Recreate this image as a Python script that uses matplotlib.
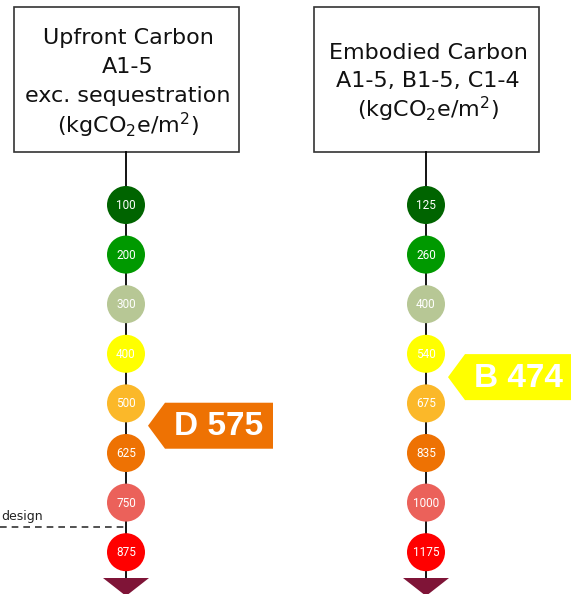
import matplotlib
matplotlib.use('Agg')
import matplotlib.pyplot as plt
from matplotlib.patches import Circle, Polygon, Rectangle

plt.rcParams['font.family'] = ['DejaVu Sans']
plt.rcParams['mathtext.fontset'] = 'custom'
plt.rcParams['mathtext.rm'] = 'DejaVu Sans'
plt.rcParams['mathtext.it'] = 'DejaVu Sans'

# data
upfront_title = ['Upfront Carbon', 'A1-5', 'exc. sequestration',
                 r'(kgCO$_\mathregular{2}$e/m$^\mathregular{2}$)']
embodied_title = ['Embodied Carbon', 'A1-5, B1-5, C1-4',
                  r'(kgCO$_\mathregular{2}$e/m$^\mathregular{2}$)']
upfront_bands = [100, 200, 300, 400, 500, 625, 750, 875]
embodied_bands = [125, 260, 400, 540, 675, 835, 1000, 1175]
band_colors = ['#006400', '#009900', '#b7c795', '#ffff00',
               '#fbb829', '#ee7203', '#eb615a', '#ff0000']
ratings = [('D', 575), ('B', 474)]
rating_colors = ['#ee7203', '#ffff00']
design_label = 'design'

W, H = 571, 594
fig = plt.figure(figsize=(W / 100, H / 100), dpi=100)
ax = fig.add_axes([0, 0, 1, 1])
ax.set_xlim(0, W)
ax.set_ylim(H, 0)
ax.axis('off')

# layout (pixels)
col_x = [126, 426]
box_w, box_top, box_bot = 225, 7, 152
title_y0 = [38, 53]
title_dy = [29, 28]
y0, step, r = 205, 49.6, 19
tri_top = 578
rating_slot = [4.45, 3.47]   # pointer position in circle steps
design_slot = 6.49

for k, (cx, bands, title) in enumerate(zip(col_x, [upfront_bands, embodied_bands],
                                          [upfront_title, embodied_title])):
    ax.add_patch(Rectangle((cx - box_w / 2, box_top), box_w, box_bot - box_top,
                           facecolor='white', edgecolor='#333333', lw=1.2))
    for j, line in enumerate(title):
        ax.text(cx + 2, title_y0[k] + j * title_dy[k], line, ha='center', va='center',
                fontsize=16, color='#111111')
    ax.plot([cx, cx], [box_bot, tri_top], color='black', lw=1.3, zorder=1)
    for i, (v, c) in enumerate(zip(bands, band_colors)):
        cy = y0 + i * step
        ax.add_patch(Circle((cx, cy), r, facecolor=c, edgecolor='none', zorder=2))
        ax.text(cx, cy + 0.5, str(v), ha='center', va='center', fontsize=8.5,
                family='Roboto', color='white', zorder=3)
    ax.add_patch(Polygon([(cx - 23, tri_top), (cx + 23, tri_top), (cx, tri_top + 18)],
                         closed=True, facecolor='#7f1437', edgecolor='none', zorder=2))

    letter, val = ratings[k]
    ry = y0 + rating_slot[k] * step
    left = cx + 22
    right = 273 if k == 0 else W + 5
    hh = 23
    ax.add_patch(Polygon([(left, ry), (left + 17, ry - hh), (right, ry - hh),
                          (right, ry + hh), (left + 17, ry + hh)], closed=True,
                         facecolor=rating_colors[k], edgecolor='none', zorder=2))
    tx = (left + 17 + min(right, W)) / 2
    ax.text(tx, ry + 1, f'{letter} {val}', ha='center', va='center', fontsize=24,
            fontweight='bold', family='Liberation Sans', color='white', zorder=3)

# design line on the upfront column
dy = y0 + design_slot * step
ax.plot([0, col_x[0]], [dy, dy], color='#333333', lw=1.2, ls=(0, (4, 3)), zorder=1)
ax.text(1, dy - 4, design_label, ha='left', va='bottom', fontsize=9, color='#222222')

fig.savefig('out.png', dpi=100)
